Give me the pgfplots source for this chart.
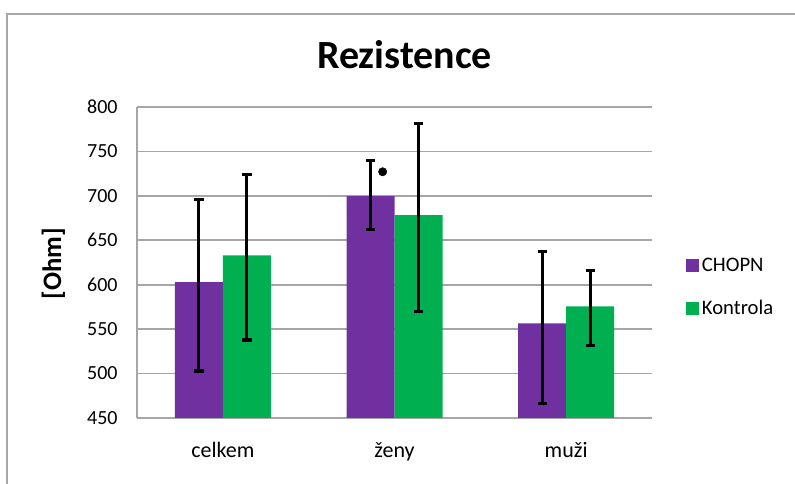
\documentclass[border=0pt]{standalone}
\usepackage{fontspec}
\setmainfont{Carlito}
\usepackage{pgfplots}
\pgfplotsset{compat=1.18}
\definecolor{chopn}{HTML}{7030A0}
\definecolor{kontr}{HTML}{00B050}
\definecolor{gridc}{HTML}{A6A6A6}
\begin{document}
\begin{tikzpicture}
\useasboundingbox (0,0) rectangle (596.25pt,363pt);
\draw[gridc, line width=1.5pt] (5.25pt,-20pt) -- (5.25pt,352.5pt) -- (620pt,352.5pt);
\node[font=\fontsize{30}{34}\selectfont\bfseries] at (303.4pt,321.75pt) {Rezistence};
\node[font=\fontsize{20}{24}\selectfont\bfseries, rotate=90] at (40pt,165.4pt) {[Ohm]};
\begin{axis}[
  at={(102.75pt,49.5pt)}, anchor=south west,
  scale only axis, width=386.25pt, height=233.25pt,
  xmin=-0.5, xmax=2.5, ymin=450, ymax=800,
  ytick={450,500,...,800},
  xtick={0,1,2}, xticklabels={celkem,ženy,muži},
  axis x line*=bottom, axis y line*=left,
  axis line style={-, gridc, line width=1.2pt},
  ymajorgrids, grid style={gridc, line width=1.2pt},
  major tick length=0pt,
  /pgf/number format/assume math mode=true,
  yticklabel style={font=\fontsize{15}{18}\selectfont, anchor=east, xshift=-11pt},
  xticklabel style={font=\fontsize{16.5}{19}\selectfont, anchor=center, text height=0.7em, text depth=0.2em, yshift=-27pt},
  legend style={at={(1.066,0.42)}, anchor=west, draw=none, fill=none, inner sep=0pt,
    font=\fontsize{15.5}{18}\selectfont, row sep=16pt,
    /tikz/every even column/.append style={column sep=6pt}},
  legend cell align=left,
  legend image code/.code={\fill[#1] (0pt,-4.875pt) rectangle (9.75pt,4.875pt);},
  clip=true,
]
\addplot[ybar, bar width=36pt, bar shift=0pt, fill=chopn, draw=none,
  error bars/.cd, y dir=both, y explicit,
  error bar style={black, line width=2.4pt},
  error mark options={black, line width=2.4pt, mark size=3.5pt, rotate=90}]
  coordinates {(-0.1398,603) += (0,93) -= (0,100)
               (0.8602,699.6) += (0,40.1) -= (0,37.8)
               (1.8602,556.5) += (0,80.9) -= (0,90.1)};
\addlegendentry{CHOPN}
\addplot[ybar, bar width=36pt, bar shift=0pt, fill=kontr, draw=none,
  error bars/.cd, y dir=both, y explicit,
  error bar style={black, line width=2.4pt},
  error mark options={black, line width=2.4pt, mark size=3.5pt, rotate=90}]
  coordinates {(0.1398,633) += (0,91.4) -= (0,95.2)
               (1.1398,678.2) += (0,103.5) -= (0,108)
               (2.1398,575.6) += (0,40.8) -= (0,43.9)};
\addlegendentry{Kontrola}
\addplot[only marks, mark=*, mark size=3.1pt, black, forget plot]
  coordinates {(0.931,727.1)};
\end{axis}
\end{tikzpicture}
\end{document}
